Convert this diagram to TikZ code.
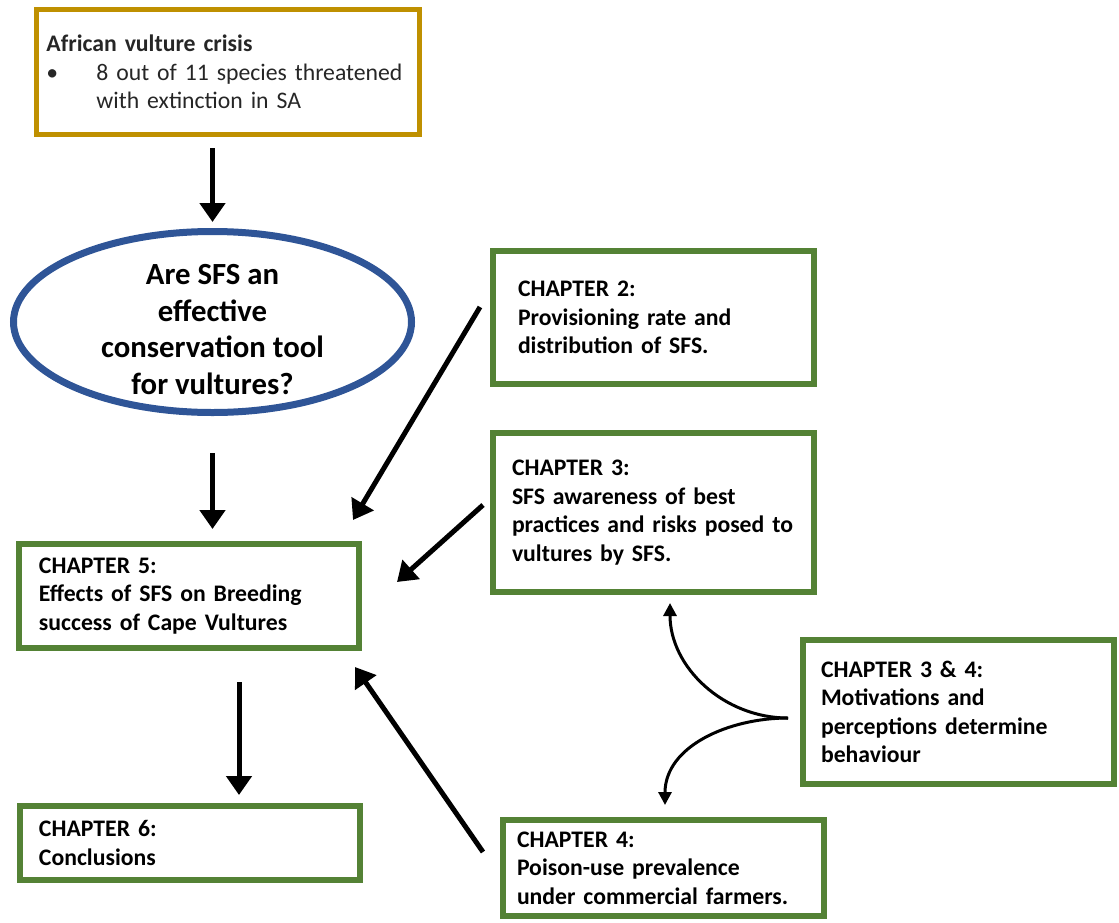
\documentclass[tikz,border=0pt]{standalone}
\usepackage{fontspec}
\setmainfont{Carlito}
\usetikzlibrary{arrows.meta,shapes.geometric}

\definecolor{chapgreen}{RGB}{84,130,53}
\definecolor{crisisgold}{RGB}{191,144,0}
\definecolor{qblue}{RGB}{47,85,151}

\begin{document}
\begin{tikzpicture}[
  x=0.2mm, y=-0.2mm,
  chap/.style={draw=chapgreen, line width=1.2mm, align=left, inner ysep=0pt,
    font=\fontsize{13.5}{16.2}\selectfont\bfseries},
  sig/.style={-{Triangle[length=3.8mm,width=5mm]}, line width=1mm},
  curv/.style={-{Triangle[length=2.6mm,width=2.6mm]}, line width=0.6mm}
]
\useasboundingbox (0,0) rectangle (1119,922);

% crisis and question (left column)
\node[draw=crisisgold, line width=1mm, align=left, text width=7.26cm, inner xsep=2mm,
  minimum height=2.5cm, text=black!85, font=\fontsize{13.5}{16.2}\selectfont] (crisis) at (228,72)
  {\textbf{African vulture crisis}\\
   \makebox[1cm][l]{\textbullet}8 out of 11 species threatened\\
   \hspace*{1cm}with extinction in SA};
\node[ellipse, draw=qblue, line width=1.4mm, minimum width=7.96cm, minimum height=3.62cm, inner sep=0pt,
  label={[yshift=-1.5mm, align=center, font=\fontsize{17.5}{21}\selectfont\bfseries]center:Are SFS an\\effective\\conservation tool\\for vultures?}]
  (question) at (212.5,322) {};
\draw[sig] ([yshift=-2.2mm]question |- crisis.south) -- ([yshift=1.2mm]question.north);

% chapter 5 and 6
\node[chap, text width=6cm, inner xsep=4mm, minimum height=2.08cm] (ch5) at (189,596)
  {CHAPTER 5:\\Effects of SFS on Breeding\\success of Cape Vultures};
\node[chap, text width=6.04cm, inner xsep=3.8mm, minimum height=1.48cm] (ch6) at (190,843)
  {CHAPTER 6:\\Conclusions};
\draw[sig] ([yshift=-7.4mm]question.south) -- ([yshift=2.4mm]question |- ch5.north);
\draw[sig] ([xshift=1cm,yshift=-6.2mm]ch5.south) -- ([xshift=1cm,yshift=1.6mm]ch5.south |- ch6.north);

% right column
\node[chap, text width=5.42cm, inner xsep=5mm, minimum height=2.66cm] (ch2) at (653.5,317.5)
  {CHAPTER 2:\\Provisioning rate and\\distribution of SFS.};
\node[chap, text width=5.66cm, inner xsep=3.8mm, minimum height=3.18cm] (ch3) at (653.5,512.5)
  {CHAPTER 3:\\SFS awareness of best\\practices and risks posed to\\vultures by SFS.};
\node[chap, text width=5.5cm, inner xsep=3.6mm, minimum height=2.88cm] (ch34) at (958.5,712)
  {CHAPTER 3 \& 4:\\Motivations and\\perceptions determine\\behaviour};
\node[chap, text width=5.86cm, inner xsep=2.8mm, minimum height=1.92cm] (ch4) at (663.5,868)
  {CHAPTER 4:\\Poison-use prevalence\\under commercial farmers.};

% feeding into chapter 5
\draw[sig] ([xshift=-2mm,yshift=2.1mm]ch2.west) -- ([xshift=-1.8mm,yshift=4.2mm]ch5.north east);
\draw[sig] ([xshift=-1.4mm,yshift=1.5mm]ch3.west) -- ([xshift=7mm,yshift=2.8mm]ch5.east);
\draw[sig] ([xshift=-3.4mm,yshift=3.2mm]ch4.west) -- ([xshift=-1.4mm,yshift=-3.2mm]ch5.south east);

% split from chapter 3 & 4
\coordinate (split) at ([xshift=-2.4mm,yshift=-1.2mm]ch34.west);
\draw[curv] (split) to[out=180,in=-90] ([xshift=3.3mm,yshift=-1.6mm]ch3.south);
\draw[curv] (split) to[out=180,in=90] ([xshift=0.3mm,yshift=2.4mm]ch4.north);

\end{tikzpicture}
\end{document}
